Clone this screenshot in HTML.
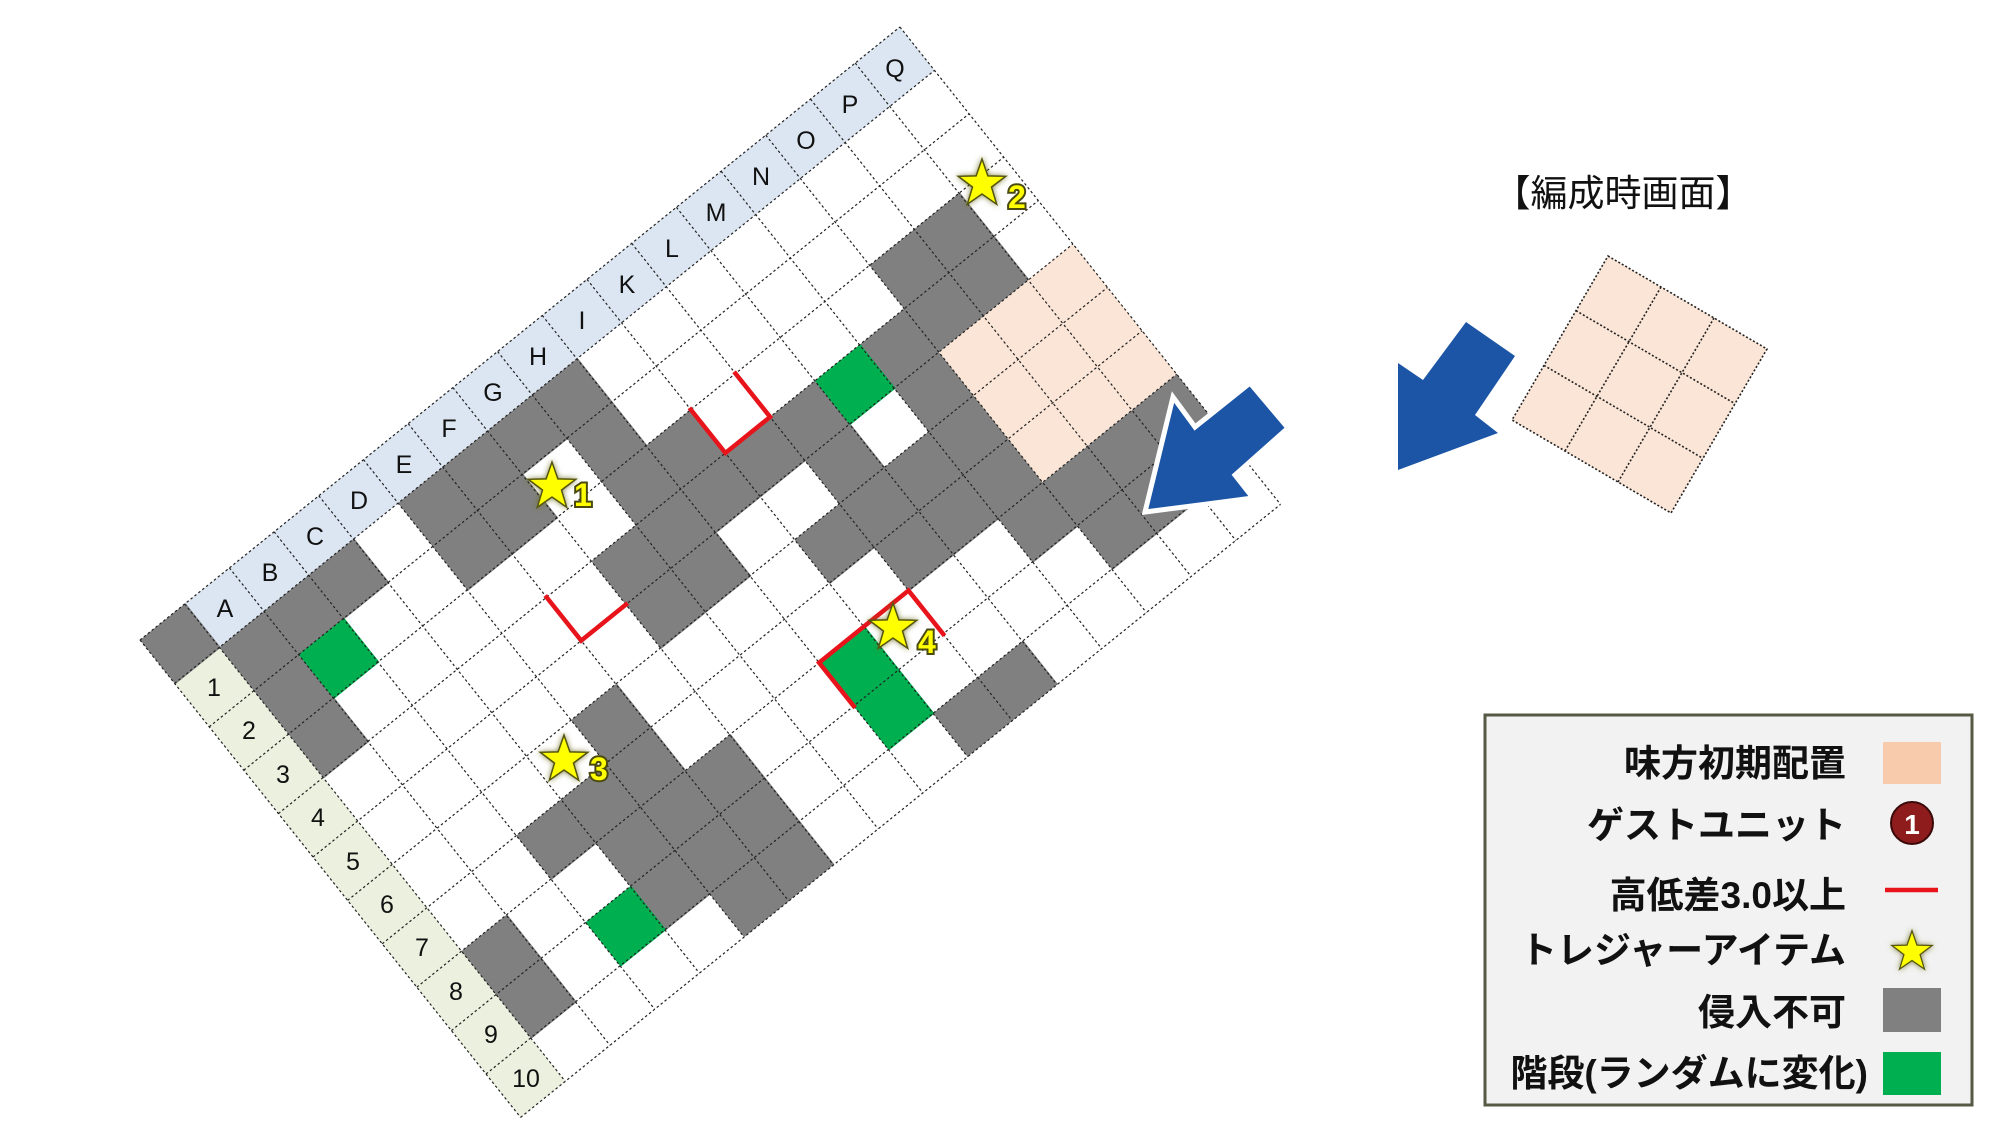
<!DOCTYPE html>
<html><head><meta charset="utf-8"><style>
html,body{margin:0;padding:0;background:#fff;}
svg{display:block;}
.gl{stroke:#222;stroke-width:1.2;stroke-dasharray:2.5,2.5;fill:none;}
.lab{font-family:"Liberation Sans","Noto Sans CJK JP",sans-serif;font-size:25px;fill:#111;text-anchor:middle;dominant-baseline:central;}
.red{stroke:#e8141c;stroke-width:4.5;fill:none;stroke-linecap:square;}
.snum{font-family:"Liberation Sans",sans-serif;font-weight:bold;font-size:32px;fill:#ffff00;stroke:#4a4a10;stroke-width:4;paint-order:stroke;}
.leg{font-family:"Liberation Sans","Noto Sans CJK JP",sans-serif;font-weight:bold;font-size:37px;fill:#111;text-anchor:end;}
</style></head><body>
<svg width="2000" height="1127" viewBox="0 0 2000 1127" xmlns="http://www.w3.org/2000/svg">
<defs>
<filter id="glow" x="-50%" y="-50%" width="200%" height="200%">
<feGaussianBlur in="SourceAlpha" stdDeviation="3" result="blur"/>
<feFlood flood-color="#6b6b20" flood-opacity="0.8" result="col"/>
<feComposite in="col" in2="blur" operator="in" result="shadow"/>
<feMerge><feMergeNode in="shadow"/><feMergeNode in="SourceGraphic"/></feMerge>
</filter>
</defs>
<rect width="2000" height="1127" fill="#fff"/>

<g transform="matrix(44.7,-36.06,34.6,43.4,140,640)">
<rect x="1" y="0" width="16" height="1" fill="#dce6f2"/>
<rect x="0" y="1" width="1" height="10" fill="#ebf1de"/>
<g fill="#808080">
<rect x="0" y="0" width="1.02" height="1.02"/>
<rect x="1" y="1" width="1.02" height="3.02"/>
<rect x="1" y="8" width="1.02" height="2.02"/>
<rect x="2" y="1" width="1.02" height="1.02"/>
<rect x="3" y="1" width="1.02" height="1.02"/>
<rect x="3" y="7" width="1.02" height="1.02"/>
<rect x="4" y="7" width="1.02" height="3.02"/>
<rect x="5" y="1" width="1.02" height="2.02"/>
<rect x="5" y="6" width="1.02" height="5"/>
<rect x="6" y="1" width="1.02" height="2.02"/>
<rect x="6" y="8" width="1.02" height="3"/>
<rect x="7" y="1" width="1.02" height="1.02"/>
<rect x="7" y="4" width="1.02" height="2.02"/>
<rect x="8" y="1" width="1.02" height="5.02"/>
<rect x="9" y="3" width="1.02" height="2.02"/>
<rect x="10" y="4" width="1.02" height="1.02"/>
<rect x="10" y="6" width="1.02" height="1.02"/>
<rect x="10" y="10" width="1.02" height="1"/>
<rect x="11" y="4" width="1.02" height="4.02"/>
<rect x="11" y="10" width="1.02" height="1"/>
<rect x="12" y="6" width="1.02" height="2.02"/>
<rect x="13" y="4" width="1.02" height="5.02"/>
<rect x="14" y="3" width="1.02" height="2.02"/>
<rect x="14" y="8" width="1.02" height="2.02"/>
<rect x="15" y="3" width="1.02" height="2.02"/>
<rect x="15" y="8" width="1.02" height="2.02"/>
<rect x="16" y="8" width="1" height="2.02"/>
</g>
<g fill="#00b050">
<rect x="2" y="2" width="1.02" height="1.02"/>
<rect x="3" y="9" width="1.02" height="1.02"/>
<rect x="9" y="8" width="1.02" height="2.02"/>
<rect x="12" y="4" width="1.02" height="1.02"/>
</g>
<rect x="14" y="5" width="3" height="3" fill="#fbe5d6"/>
</g>

<g class="gl">
<line x1="140" y1="640" x2="520.6" y2="1117.4"/>
<line x1="184.7" y1="603.94" x2="565.3" y2="1081.34"/>
<line x1="229.4" y1="567.88" x2="610" y2="1045.28"/>
<line x1="274.1" y1="531.82" x2="654.7" y2="1009.22"/>
<line x1="318.8" y1="495.76" x2="699.4" y2="973.16"/>
<line x1="363.5" y1="459.7" x2="744.1" y2="937.1"/>
<line x1="408.2" y1="423.64" x2="788.8" y2="901.04"/>
<line x1="452.9" y1="387.58" x2="833.5" y2="864.98"/>
<line x1="497.6" y1="351.52" x2="878.2" y2="828.92"/>
<line x1="542.3" y1="315.46" x2="922.9" y2="792.86"/>
<line x1="587" y1="279.4" x2="967.6" y2="756.8"/>
<line x1="631.7" y1="243.34" x2="1012.3" y2="720.74"/>
<line x1="676.4" y1="207.28" x2="1057" y2="684.68"/>
<line x1="721.1" y1="171.22" x2="1101.7" y2="648.62"/>
<line x1="765.8" y1="135.16" x2="1146.4" y2="612.56"/>
<line x1="810.5" y1="99.1" x2="1191.1" y2="576.5"/>
<line x1="855.2" y1="63.04" x2="1235.8" y2="540.44"/>
<line x1="899.9" y1="26.98" x2="1280.5" y2="504.38"/>
<line x1="140" y1="640" x2="899.9" y2="26.98"/>
<line x1="174.6" y1="683.4" x2="934.5" y2="70.38"/>
<line x1="209.2" y1="726.8" x2="969.1" y2="113.78"/>
<line x1="243.8" y1="770.2" x2="1003.7" y2="157.18"/>
<line x1="278.4" y1="813.6" x2="1038.3" y2="200.58"/>
<line x1="313" y1="857" x2="1072.9" y2="243.98"/>
<line x1="347.6" y1="900.4" x2="1107.5" y2="287.38"/>
<line x1="382.2" y1="943.8" x2="1142.1" y2="330.78"/>
<line x1="416.8" y1="987.2" x2="1176.7" y2="374.18"/>
<line x1="451.4" y1="1030.6" x2="1211.3" y2="417.58"/>
<line x1="486" y1="1074" x2="1245.9" y2="460.98"/>
<line x1="520.6" y1="1117.4" x2="1280.5" y2="504.38"/>
</g>

<g class="lab">
<text x="225" y="609">A</text><text x="270" y="573">B</text><text x="315" y="537">C</text>
<text x="359" y="501">D</text><text x="404" y="465">E</text><text x="449" y="429">F</text>
<text x="493" y="393">G</text><text x="538" y="357">H</text><text x="582" y="321">I</text>
<text x="627" y="285">K</text><text x="672" y="249">L</text><text x="716" y="213">M</text>
<text x="761" y="177">N</text><text x="806" y="141">O</text><text x="850" y="105">P</text>
<text x="895" y="69">Q</text>
<text x="214" y="688">1</text><text x="249" y="731">2</text><text x="283" y="775">3</text>
<text x="318" y="818">4</text><text x="353" y="862">5</text><text x="387" y="905">6</text>
<text x="422" y="948">7</text><text x="456" y="992">8</text><text x="491" y="1035">9</text>
<text x="526" y="1079">10</text>
</g>

<polyline class="red" points="546.6,597.24 581.2,640.64 625.9,604.58"/>
<polyline class="red" points="690.8,409.6 725.4,453 770.1,416.94 735.5,373.54"/>
<polyline class="red" points="853.7,706.06 819.1,662.66 908.5,590.54 943.1,633.94"/>

<g filter="url(#glow)">
<polygon transform="translate(552,487)" points="0,-25 5.88,-8.09 23.78,-7.73 9.51,3.09 14.69,20.23 0,10 -14.69,20.23 -9.51,3.09 -23.78,-7.73 -5.88,-8.09" fill="#ffff00" stroke="#55550a" stroke-width="1.5"/>
<polygon transform="translate(982,184)" points="0,-25 5.88,-8.09 23.78,-7.73 9.51,3.09 14.69,20.23 0,10 -14.69,20.23 -9.51,3.09 -23.78,-7.73 -5.88,-8.09" fill="#ffff00" stroke="#55550a" stroke-width="1.5"/>
<polygon transform="translate(564,760)" points="0,-25 5.88,-8.09 23.78,-7.73 9.51,3.09 14.69,20.23 0,10 -14.69,20.23 -9.51,3.09 -23.78,-7.73 -5.88,-8.09" fill="#ffff00" stroke="#55550a" stroke-width="1.5"/>
<polygon transform="translate(893,628)" points="0,-25 5.88,-8.09 23.78,-7.73 9.51,3.09 14.69,20.23 0,10 -14.69,20.23 -9.51,3.09 -23.78,-7.73 -5.88,-8.09" fill="#ffff00" stroke="#55550a" stroke-width="1.5"/>
</g>
<text class="snum" x="574" y="506">1</text>
<text class="snum" x="1008" y="208">2</text>
<text class="snum" x="590" y="780">3</text>
<text class="snum" x="918" y="653">4</text>

<polygon points="1250,383 1288,428 1235,475 1253,498 1145,512 1173,397 1195,427" fill="#1c55a5" stroke="#fff" stroke-width="5" stroke-linejoin="miter"/>

<text x="1623" y="206" font-family="Liberation Sans,Noto Sans CJK JP,sans-serif" font-size="37" text-anchor="middle" fill="#111">【編成時画面】</text>
<polygon points="1466,322 1423,380 1398,363 1398,470 1498,433 1475,415 1515,356" fill="#1c55a5"/>
<g transform="matrix(53,31,-32,54.7,1608,256)">
<rect x="0" y="0" width="3" height="3" fill="#fbe5d6"/>
</g>
<g stroke="#222" stroke-width="1.6" stroke-dasharray="2,2" fill="none">
<polygon points="1608,256 1767,349 1671,513 1512,420"/>
<line x1="1661" y1="287" x2="1565" y2="451"/>
<line x1="1714" y1="318" x2="1618" y2="482"/>
<line x1="1576" y1="310.7" x2="1735" y2="403.7"/>
<line x1="1544" y1="365.4" x2="1703" y2="458.4"/>
</g>

<rect x="1485" y="715" width="487" height="390" fill="#f2f2f2" stroke="#555a45" stroke-width="3"/>
<text class="leg" x="1846" y="776">味方初期配置</text>
<text class="leg" x="1846" y="838">ゲストユニット</text>
<text class="leg" x="1846" y="908">高低差3.0以上</text>
<text class="leg" x="1846" y="963">トレジャーアイテム</text>
<text class="leg" x="1846" y="1025">侵入不可</text>
<text class="leg" x="1868" y="1086">階段(ランダムに変化)</text>
<rect x="1883" y="742" width="58" height="42" fill="#f8cbad"/>
<circle cx="1912" cy="823" r="21" fill="#8e1c1c" stroke="#3a0a0a" stroke-width="2"/>
<text x="1912" y="834" font-family="Liberation Sans,sans-serif" font-weight="bold" font-size="28" fill="#fff" text-anchor="middle">1</text>
<line x1="1885" y1="890" x2="1938" y2="890" stroke="#e8141c" stroke-width="4.5"/>
<g filter="url(#glow)">
<polygon transform="translate(1912,952) scale(0.85)" points="0,-25 5.88,-8.09 23.78,-7.73 9.51,3.09 14.69,20.23 0,10 -14.69,20.23 -9.51,3.09 -23.78,-7.73 -5.88,-8.09" fill="#ffff00" stroke="#55550a" stroke-width="1.5"/>
</g>
<rect x="1883" y="988" width="58" height="44" fill="#808080"/>
<rect x="1883" y="1052" width="58" height="43" fill="#00b050"/>
</svg>
</body></html>
